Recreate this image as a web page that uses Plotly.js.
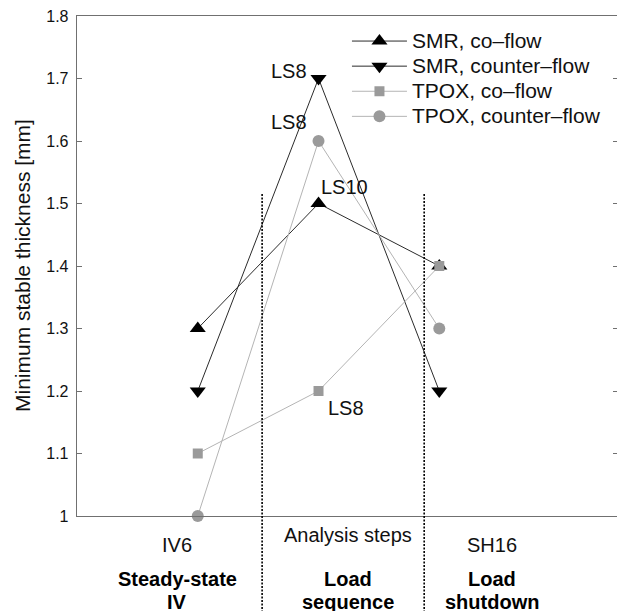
<!DOCTYPE html>
<html>
<head>
<meta charset="utf-8">
<script src="https://cdn.plot.ly/plotly-3.0.1.min.js"></script>
<style>
html,body{margin:0;padding:0;overflow:hidden;background:#fff;}
#chart{width:618px;height:611px;}
.legendtext{font-size:21px !important;}
</style>
</head>
<body>
<div id="chart"></div>
<script>
// ---- data ----
var steps = [1, 2, 3];                       // IV6, load sequence step, SH16
var smrCo = [1.3, 1.5, 1.4];
var smrCounter = [1.2, 1.7, 1.2];
var tpoxCo = [1.1, 1.2, 1.4];
var tpoxCounter = [1.0, 1.6, 1.3];
var seriesNames = ['SMR, co\u2013flow', 'SMR, counter\u2013flow', 'TPOX, co\u2013flow', 'TPOX, counter\u2013flow'];
var yTicks = [1, 1.1, 1.2, 1.3, 1.4, 1.5, 1.6, 1.7, 1.8];
var yTickText = ['1', '1.1', '1.2', '1.3', '1.4', '1.5', '1.6', '1.7', '1.8'];
var separators = [1.533, 2.875];
var pointLabels = ['LS8', 'LS8', 'LS10', 'LS8'];
var pointLabelX = [2, 2, 2, 2];
var pointLabelY = [1.7, 1.6, 1.5, 1.2];
var stepLabels = ['IV6', 'SH16'];
var stepLabelX = [0.83, 3.44];
var phaseTop = ['Steady-state', 'Load', 'Load'];
var phaseBottom = ['IV', 'sequence', 'shutdown'];
var phaseX = [0.83, 2.24, 3.44];

var FONT = 'Liberation Sans, Arial, Helvetica, sans-serif';
var dark = '#2b2b2b', light = '#b4b4b4', grayMk = '#9a9a9a';

var traces = [
  {x: steps, y: smrCo, name: seriesNames[0], mode: 'lines+markers',
   line: {color: dark, width: 1}, marker: {symbol: 'triangle-up', size: 14, color: '#000'}},
  {x: steps, y: smrCounter, name: seriesNames[1], mode: 'lines+markers',
   line: {color: dark, width: 1}, marker: {symbol: 'triangle-down', size: 14, color: '#000'}},
  {x: steps, y: tpoxCo, name: seriesNames[2], mode: 'lines+markers',
   line: {color: light, width: 1}, marker: {symbol: 'square', size: 10, color: grayMk}},
  {x: steps, y: tpoxCounter, name: seriesNames[3], mode: 'lines+markers',
   line: {color: light, width: 1}, marker: {symbol: 'circle', size: 12, color: grayMk}}
];
traces.forEach(function(t){ t.cliponaxis = false; });

var shapes = separators.map(function(s){
  return {type: 'line', xref: 'x', yref: 'paper', x0: s, x1: s, y0: 0.644, y1: -0.25,
          line: {color: '#000', width: 1.6, dash: '2px,1.5px'}};
});

var ann = [];
var labelCfg = [
  {xanchor: 'right', yanchor: 'middle', xshift: -10, yshift: 8},
  {xanchor: 'right', yanchor: 'middle', xshift: -10, yshift: 19},
  {xanchor: 'left', yanchor: 'middle', xshift: 0, yshift: 17},
  {xanchor: 'left', yanchor: 'middle', xshift: 7, yshift: -17}
];
pointLabels.forEach(function(t, i){
  ann.push(Object.assign({x: pointLabelX[i], y: pointLabelY[i], xref: 'x', yref: 'y', text: t, showarrow: false,
    font: {family: FONT, size: 20, color: '#111'}}, labelCfg[i]));
});
stepLabels.forEach(function(t, i){
  ann.push({x: stepLabelX[i], y: 0, xref: 'x', yref: 'paper', yshift: -29, text: t, showarrow: false,
    xanchor: 'center', yanchor: 'middle', font: {family: FONT, size: 20, color: '#111'}});
});
phaseTop.forEach(function(t, i){
  ann.push({x: phaseX[i], y: 0, xref: 'x', yref: 'paper', yshift: -63, text: '<b>' + t + '</b>', showarrow: false,
    xanchor: 'center', yanchor: 'middle', font: {family: FONT, size: 20, color: '#000'}});
  ann.push({x: phaseX[i], y: 0, xref: 'x', yref: 'paper', yshift: -86, text: '<b>' + phaseBottom[i] + '</b>', showarrow: false,
    xanchor: 'center', yanchor: 'middle', font: {family: FONT, size: 20, color: '#000'}});
});
ann.push({x: 0.5, y: 0, xref: 'paper', yref: 'paper', yshift: -19, text: 'Analysis steps', showarrow: false,
  xanchor: 'center', yanchor: 'middle', font: {family: FONT, size: 20, color: '#111'}});
ann.push({x: 0, y: 0.5, xref: 'paper', yref: 'paper', xshift: -55, text: 'Minimum stable thickness [mm]',
  textangle: -90, showarrow: false, xanchor: 'center', yanchor: 'middle',
  font: {family: FONT, size: 21, color: '#111'}});

var layout = {
  width: 618, height: 611,
  margin: {l: 77, r: 0, t: 16, b: 95},
  paper_bgcolor: '#fff', plot_bgcolor: '#fff',
  font: {family: FONT, color: '#111'},
  showlegend: true,
  legend: {x: 0.499, y: 0.985, xanchor: 'left', yanchor: 'top', bgcolor: 'rgba(0,0,0,0)',
           font: {family: FONT, size: 17, color: '#111'}, itemwidth: 55, tracegroupgap: 0},
  xaxis: {range: [0, 4.48], showgrid: false, zeroline: false, showticklabels: false, ticks: '',
          showline: true, linecolor: '#707070', linewidth: 1.3, mirror: true, fixedrange: true},
  yaxis: {range: [1, 1.8], tickvals: yTicks, ticktext: yTickText, showgrid: false, zeroline: false,
          ticks: 'inside', ticklen: 5, tickcolor: '#707070', tickwidth: 1, showline: true,
          linecolor: '#707070', linewidth: 1.3, mirror: 'ticks',
          tickfont: {family: FONT, size: 16, color: '#111'}, ticklabelstandoff: 4},
  shapes: shapes,
  annotations: ann
};

Plotly.newPlot('chart', traces, layout, {displayModeBar: false, staticPlot: true});
</script>
</body>
</html>
